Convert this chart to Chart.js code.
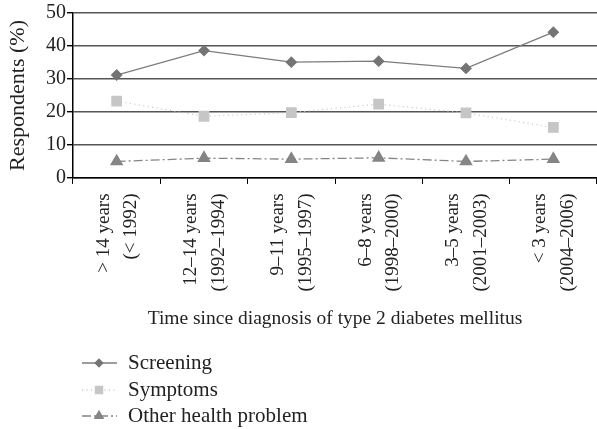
<!DOCTYPE html>
<html>
<head>
<meta charset="utf-8">
<script src="https://cdn.jsdelivr.net/npm/chart.js@4"></script>
<style>
  html, body { margin: 0; padding: 0; background: #fff; }
  #wrap { width: 597px; height: 429px; }
</style>
</head>
<body>
<div id="wrap"><canvas id="chart" width="597" height="429"></canvas></div>
<script>
const categories = [
  ["> 14 years", "(< 1992)"],
  ["12–14 years", "(1992–1994)"],
  ["9–11 years", "(1995–1997)"],
  ["6–8 years", "(1998–2000)"],
  ["3–5 years", "(2001–2003)"],
  ["< 3 years", "(2004–2006)"]
];
const screening = [31.2, 38.6, 35.1, 35.4, 33.2, 44.2];
const symptoms = [23.3, 18.7, 19.8, 22.4, 19.7, 15.3];
const otherProblem = [5.0, 6.0, 5.7, 6.1, 5.0, 5.7];
const yTicks = [0, 10, 20, 30, 40, 50];

const FONT = "'Liberation Serif', 'DejaVu Serif', serif";

// legend drawn below the axis title, one row per series
const sideLegend = {
  id: "sideLegend",
  afterDraw(chart) {
    const ctx = chart.ctx;
    const rows = [363, 390, 416];
    chart.data.datasets.forEach((ds, i) => {
      const y = rows[i];
      ctx.save();
      ctx.strokeStyle = ds.borderColor;
      ctx.lineWidth = ds.borderWidth;
      ctx.setLineDash(ds.borderDash || []);
      ctx.beginPath();
      ctx.moveTo(82, y);
      ctx.lineTo(117, y);
      ctx.stroke();
      ctx.setLineDash([]);
      ctx.fillStyle = ds.pointBackgroundColor;
      ctx.strokeStyle = ds.pointBorderColor;
      Chart.helpers.drawPoint(ctx, {
        pointStyle: ds.pointStyle,
        radius: ds.pointRadius * 0.75,
        rotation: 0,
        borderWidth: 1
      }, 99, y);
      ctx.fillStyle = "#222";
      ctx.font = "21px " + FONT;
      ctx.textBaseline = "middle";
      ctx.fillText(ds.label, 128, y);
      ctx.restore();
    });
  }
};

new Chart(document.getElementById("chart"), {
  type: "line",
  data: {
    labels: categories,
    datasets: [
      {
        label: "Screening",
        data: screening,
        borderColor: "#7c7c7c",
        borderWidth: 1.3,
        pointStyle: "rectRot",
        pointRadius: 5,
        pointBackgroundColor: "#747474",
        pointBorderColor: "#747474",
        tension: 0
      },
      {
        label: "Symptoms",
        data: symptoms,
        borderColor: "#c6c6c6",
        borderWidth: 1.3,
        borderDash: [1, 3.5],
        pointStyle: "rect",
        pointRadius: 6.7,
        pointBackgroundColor: "#c6c6c6",
        pointBorderColor: "#c6c6c6",
        tension: 0
      },
      {
        label: "Other health problem",
        data: otherProblem,
        borderColor: "#858585",
        borderWidth: 1.3,
        borderDash: [9, 3, 2, 3],
        pointStyle: "triangle",
        pointRadius: 6.5,
        pointBackgroundColor: "#858585",
        pointBorderColor: "#858585",
        tension: 0
      }
    ]
  },
  options: {
    responsive: false,
    animation: false,
    layout: {
      autoPadding: false,
      padding: { top: 13, right: 0, left: 0, bottom: 98 }
    },
    plugins: {
      legend: { display: false },
      tooltip: { enabled: false }
    },
    scales: {
      x: {
        offset: true,
        afterFit(scale) {
          scale.paddingLeft = 0;
          scale.paddingRight = 0;
        },
        grid: {
          offset: true,
          drawOnChartArea: false,
          drawTicks: true,
          tickLength: 6,
          color: "#000"
        },
        border: { color: "#000", width: 1.5 },
        ticks: {
          color: "#222",
          font: { family: FONT, size: 19, lineHeight: 1.45 },
          minRotation: 90,
          maxRotation: 90,
          autoSkip: false,
          padding: 0,
          labelOffset: -13,
          // trailing en space keeps the text a little off the axis
          callback(value) {
            return this.getLabelForValue(value).map(s => s + "\u2002");
          }
        },
        title: {
          display: true,
          text: "Time since diagnosis of type 2 diabetes mellitus",
          color: "#222",
          font: { family: FONT, size: 19.5 },
          padding: { top: 16, bottom: 0 }
        }
      },
      y: {
        min: 0,
        max: 50,
        afterBuildTicks(scale) {
          scale.ticks = yTicks.map(v => ({ value: v }));
        },
        afterFit(scale) {
          scale.width = 73;
          scale.paddingTop = 0;
        },
        grid: {
          color: "#555",
          lineWidth: 1.4,
          tickLength: 6,
          tickColor: "#000"
        },
        border: { color: "#000", width: 1.5 },
        ticks: {
          color: "#222",
          font: { family: FONT, size: 20 },
          padding: 1
        },
        title: {
          display: true,
          text: "Respondents (%)",
          color: "#222",
          font: { family: FONT, size: 22 },
          padding: { top: 5, bottom: 2 }
        }
      }
    }
  },
  plugins: [sideLegend]
});
</script>
</body>
</html>
